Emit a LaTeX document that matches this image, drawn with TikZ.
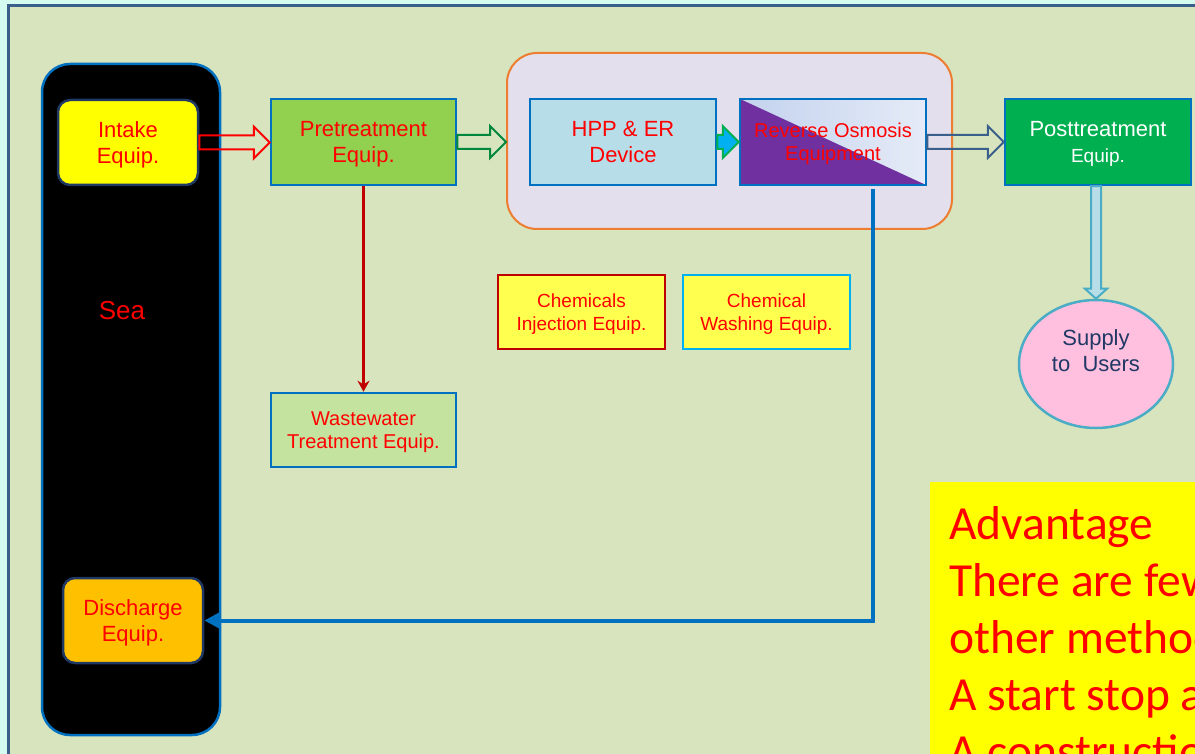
\documentclass[tikz,border=0pt]{standalone}
\usepackage{fontspec}
\setmainfont{Liberation Sans}
\newfontfamily\calibrifont{Carlito}
\usetikzlibrary{calc,shapes.geometric,arrows.meta}

\definecolor{mintbg}{HTML}{D5FBF1}
\definecolor{panelbg}{HTML}{D7E4BD}
\definecolor{framebl}{HTML}{3A5F8B}
\definecolor{boxblue}{HTML}{0070C0}
\definecolor{navyline}{HTML}{1F3864}
\definecolor{intakeyellow}{HTML}{FFFF00}
\definecolor{dischargeorange}{HTML}{FFC000}
\definecolor{pregreen}{HTML}{92D050}
\definecolor{wastegreen}{HTML}{C4E39E}
\definecolor{hppblue}{HTML}{B7DEE8}
\definecolor{postgreen}{HTML}{00B050}
\definecolor{ropurple}{HTML}{7030A0}
\definecolor{rolightA}{HTML}{C3D2EE}
\definecolor{rolightB}{HTML}{E5EBF7}
\definecolor{grouporange}{HTML}{ED7D31}
\definecolor{grouplilac}{HTML}{E4DFEC}
\definecolor{chemyellow}{HTML}{FFFF50}
\definecolor{injred}{HTML}{C00000}
\definecolor{washcyan}{HTML}{00B0F0}
\definecolor{supplypink}{HTML}{FFC0E0}
\definecolor{supplyline}{HTML}{4BACC6}
\definecolor{greenarrow}{HTML}{00873E}

% block arrows between two anchors
\newcommand{\harrow}[3]{%
  \draw[#1] let \p1=(#2), \p2=(#3) in
    (\x1,\y1+7pt) -- (\x2-16pt,\y1+7pt) -- (\x2-16pt,\y1+16pt) -- (\x2,\y1)
    -- (\x2-16pt,\y1-16pt) -- (\x2-16pt,\y1-7pt) -- (\x1,\y1-7pt) -- cycle;}
\newcommand{\varrow}[3]{%
  \draw[#1] let \p1=(#2), \p2=(#3) in
    (\x2-5pt,\y1) -- (\x2-5pt,\y2+10pt) -- (\x2-11pt,\y2+10pt) -- (\x2,\y2)
    -- (\x2+11pt,\y2+10pt) -- (\x2+5pt,\y2+10pt) -- (\x2+5pt,\y1) -- cycle;}

\begin{document}
\begin{tikzpicture}[x=1pt, y=-1pt,
    unit/.style={draw=boxblue, line width=2.5pt, inner sep=0pt, align=center,
      text=red, font=\fontsize{22}{26}\selectfont, text depth=0pt},
    seaunit/.style={unit, draw=navyline, rounded corners=12pt,
      minimum width=140pt, minimum height=85pt},
    mainunit/.style={unit, minimum width=186pt, minimum height=86pt},
    sideunit/.style={unit, fill=chemyellow, minimum width=167pt,
      minimum height=74pt, font=\fontsize{19}{23}\selectfont},
    blockarrow/.style={line width=2pt, line join=miter}
  ]

  % page and panel
  \useasboundingbox (0,0) rectangle (1195,754);
  \clip (0,0) rectangle (1195,754);
  \fill[mintbg] (0,0) rectangle (1195,754);
  \draw[fill=panelbg, draw=framebl, line width=3pt] (8,6) rectangle (1225,790);

  % sea column
  \node[draw=boxblue, line width=2.5pt, fill=black, rounded corners=28pt,
    minimum width=178pt, minimum height=671pt] (seabox) at (131,399.5) {};
  \node[text=red, font=\fontsize{26}{30}\selectfont] (sealabel) at (122,311) {Sea};
  \node[seaunit, fill=intakeyellow] (intake) at (128,142.5) {Intake\\Equip.};
  \node[seaunit, fill=dischargeorange] (discharge) at (133,620.5) {Discharge\\Equip.};

  % RO group
  \node[draw=grouporange, line width=2pt, fill=grouplilac, rounded corners=30pt,
    minimum width=445pt, minimum height=176pt] (rogroup) at (729.5,141) {};

  \node[mainunit, fill=pregreen, minimum width=185pt] (pre) at (363.5,142) {Pretreatment\\Equip.};
  \node[mainunit, fill=hppblue] (hpp) at (623,142) {HPP \& ER\\Device};
  \node[mainunit, left color=rolightA, right color=rolightB,
    font=\fontsize{20}{23}\selectfont,
    path picture={\fill[ropurple] (path picture bounding box.north west)
      -- (path picture bounding box.south east)
      -- (path picture bounding box.south west) -- cycle;}]
    (ro) at (833,142) {Reverse Osmosis\\Equipment};
  \node[mainunit, fill=postgreen, text=white] (post) at (1098,142)
    {Posttreatment\\{\fontsize{19}{22}\selectfont Equip.}};

  \node[unit, fill=wastegreen, minimum width=185pt, minimum height=74pt,
    font=\fontsize{20}{23}\selectfont] (waste) at (363.5,430) {Wastewater\\Treatment Equip.};
  \node[sideunit, draw=injred] (chemInj) at (581.5,312) {Chemicals\\Injection Equip.};
  \node[sideunit, draw=washcyan] (chemWash) at (766.5,312) {Chemical\\Washing Equip.};

  \node[ellipse, draw=supplyline, line width=2.5pt, fill=supplypink, inner sep=0pt,
    minimum width=154pt, minimum height=128pt,
    label={[align=center, text=navyline, font=\fontsize{22}{26}\selectfont, yshift=13pt]center:{Supply\\to\ \ Users}}]
    (supply) at (1096,364) {};

  % advantage note
  \node[fill=intakeyellow, anchor=north west, minimum width=320pt, minimum height=320pt]
    (advbox) at (930,482) {};
  \node[anchor=north west, align=left, inner sep=0pt, text=red,
    font=\calibrifont\fontsize{47.5}{57}\selectfont] (advtext) at (949,506)
    {Advantage\\There are few\\other methods\\A start stop a\\A construction};

  % flow arrows
  \harrow{blockarrow, draw=red}{intake.east}{pre.west}
  \harrow{blockarrow, draw=greenarrow}{pre.east}{rogroup.west}
  \harrow{blockarrow, draw=postgreen, fill=washcyan}{hpp.east}{ro.west}
  \harrow{blockarrow, draw=framebl}{ro.east}{post.west}
  \varrow{blockarrow, draw=supplyline, fill=hppblue}{post.south}{supply.north}

  \draw[line width=3pt, draw=injred, -{Stealth[length=11pt, width=12pt]}] (pre.south) -- (waste.north);
  \coordinate (rodrain) at ([xshift=40pt, yshift=-3pt]ro.south);
  \draw[line width=4pt, draw=boxblue, -{Triangle[length=16pt, width=16pt]}] (rodrain) |- (discharge.east);
\end{tikzpicture}
\end{document}
